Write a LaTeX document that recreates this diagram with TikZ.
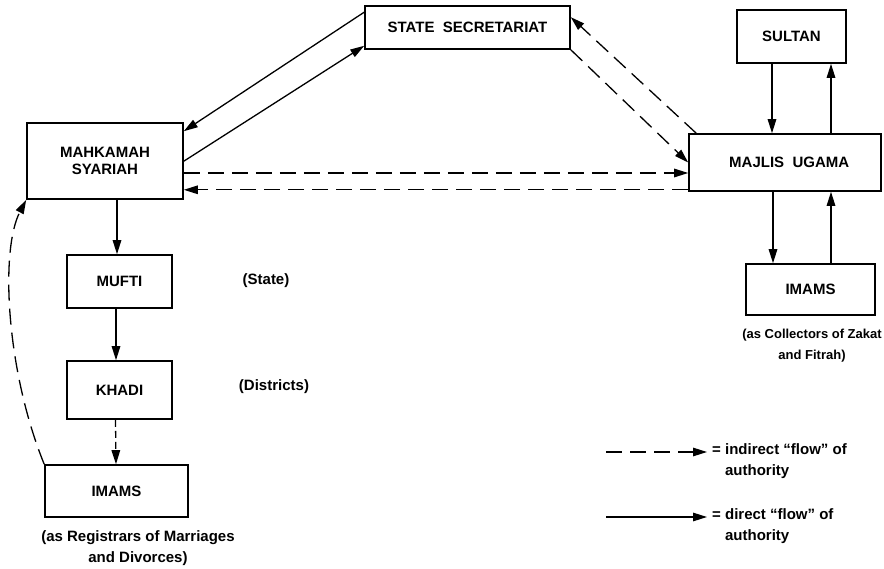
\documentclass[tikz,border=0pt]{standalone}
\usepackage{fontspec}
\setmainfont{Liberation Sans}
\usetikzlibrary{arrows.meta,calc}

\begin{document}
\begin{tikzpicture}[x=1pt, y=-1pt, font=\bfseries\fontsize{15}{17.5}\selectfont,
          >={Triangle[length=14pt,width=8.5pt]},
          unit/.style={draw, line width=1.6pt, inner sep=0pt, align=center},
          note/.style={inner sep=0pt, align=center, font=\bfseries\fontsize{15}{21}\selectfont},
          flow/.style={->, line width=1.3pt},
          iflow/.style={->, line width=1.3pt, dash pattern=on 16pt off 8pt}]
        \useasboundingbox (0,0) rectangle (884,569);
        % boxes
        \node[unit, minimum width=205, minimum height=43] (sec) at (467.5,27.5) {STATE\ \ SECRETARIAT};
        \node[unit, minimum width=156, minimum height=76] (mah) at (105,161) {MAHKAMAH\\SYARIAH};
        \node[unit, minimum width=109, minimum height=53] (sul) at (791.5,36.5) {SULTAN};
        \node[unit, minimum width=192, minimum height=57] (maj) at (785,162.5) {\ \ MAJLIS\ \ UGAMA};
        \node[unit, minimum width=129, minimum height=51] (imr) at (810.5,289.5) {IMAMS};
        \node[unit, minimum width=105, minimum height=53] (muf) at (119.5,281.5) {MUFTI};
        \node[unit, minimum width=105, minimum height=58] (kha) at (119.5,390) {KHADI};
        \node[unit, minimum width=143, minimum height=52] (iml) at (116.5,491) {IMAMS};
        % side notes
        \node[note] (state) at (266,281) {(State)};
        \node[note] (dist) at (274,387) {(Districts)};
        \node[note] (regs) at (138,548) {(as Registrars of Marriages\\and Divorces)};
        \node[note, font=\bfseries\fontsize{13}{21}\selectfont] (coll) at (812,346) {(as Collectors of Zakat\\and Fitrah)};
        % links
        \draw[flow] ($(sec.north west)+(0,7)$) -- ($(mah.north east)+(0,9)$);
        \draw[flow] ($(mah.north east)+(0,39)$) -- ($(sec.south west)+(0,-4)$);
        \draw[iflow] (sec.south east) -- (maj.west);
        \draw[iflow] ($(maj.north west)+(8,0)$) -- ($(sec.north east)+(0,12)$);
        \coordinate (d1) at ($(mah.east)+(0,12)$);
        \coordinate (d2) at ($(maj.south west)+(0,-2)$);
        \draw[iflow] (d1) -- (d1 -| maj.west);
        \draw[iflow] (d2) -- (d2 -| mah.east);
        \draw[flow] ($(sul.south)+(-19.5,0)$) -- ($(maj.north)+(-13,0)$);
        \draw[flow] ($(maj.north)+(46,0)$) -- ($(sul.south)+(39.5,0)$);
        \draw[flow] ($(maj.south)+(-12,0)$) -- ($(imr.north)+(-37.5,0)$);
        \draw[flow] ($(imr.north)+(20.5,0)$) -- ($(maj.south)+(46,0)$);
        \draw[flow] ($(mah.south)+(12,0)$) -- ($(muf.north)+(-2.5,0)$);
        \draw[flow] ($(muf.south)+(-3.5,0)$) -- ($(kha.north)+(-3.5,0)$);
        \draw[->, line width=1.3pt, dash pattern=on 7pt off 4pt] ($(kha.south)+(-4,0)$) -- ($(iml.north)+(-0.5,0)$);
        \draw[iflow] (iml.north west) .. controls (6,370) and (0,250) .. (mah.south west);
        % key
        \coordinate (ka) at (606,452);
        \coordinate (kb) at (707,452);
        \coordinate (kc) at (606,517);
        \coordinate (kd) at (707,517);
        \draw[iflow] (ka) -- (kb);
        \draw[flow] (kc) -- (kd);
        \node[note, align=left, anchor=north west] (kind) at (712,443) {= indirect “flow” of\\\phantom{= }authority};
        \node[note, align=left, anchor=north west] (kdir) at (712,508) {= direct “flow” of\\\phantom{= }authority};
\end{tikzpicture}
\end{document}
